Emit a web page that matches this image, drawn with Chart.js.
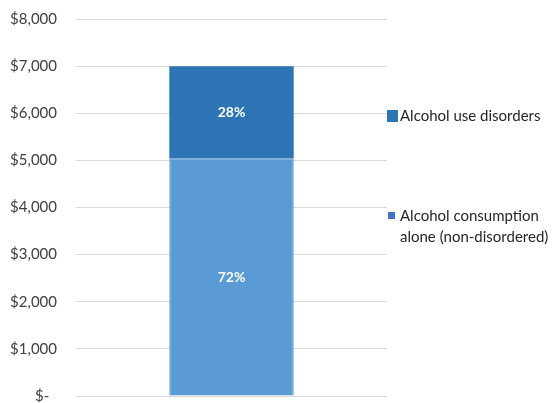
<!DOCTYPE html>
<html>
<head>
<meta charset="utf-8">
<script src="https://cdn.jsdelivr.net/npm/chart.js@4"></script>
<style>
  html, body { margin: 0; padding: 0; background: #fff; }
  canvas { display: block; }
</style>
</head>
<body>
<canvas id="c" width="556" height="403"></canvas>
<script>
// data
const categories = [''];
const seriesNames = ['Alcohol consumption alone (non-disordered)', 'Alcohol use disorders'];
const nonDisordered = [5040];
const useDisorders = [1960];
const yTicks = [0, 1000, 2000, 3000, 4000, 5000, 6000, 7000, 8000];

const FONT = 'Lato, "Open Sans", sans-serif';

// percentage labels inside each bar segment
const pctLabels = {
  id: 'pctLabels',
  afterDatasetsDraw(chart) {
    const ctx = chart.ctx;
    const totals = categories.map((_, i) =>
      chart.data.datasets.reduce((s, d) => s + d.data[i], 0));
    ctx.save();
    ctx.fillStyle = '#fff';
    ctx.font = 'bold 14px ' + FONT;
    ctx.textAlign = 'center';
    ctx.textBaseline = 'middle';
    chart.data.datasets.forEach((ds, di) => {
      chart.getDatasetMeta(di).data.forEach((bar, i) => {
        const p = Math.round(ds.data[i] / totals[i] * 100) + '%';
        ctx.fillText(p, bar.x, (bar.y + bar.base) / 2);
      });
    });
    ctx.restore();
  }
};

// legend on the right, like the original
const sideLegend = {
  id: 'sideLegend',
  afterDraw(chart) {
    const ctx = chart.ctx;
    ctx.save();
    ctx.font = '15px ' + FONT;
    ctx.textBaseline = 'middle';
    // disorders entry
    const d1 = chart.data.datasets[1];
    ctx.fillStyle = d1.backgroundColor;
    ctx.fillRect(387, 110, 11, 12);
    ctx.fillStyle = '#262626';
    ctx.fillText(d1.label, 400, 116);
    // non-disordered entry, wrapped on two lines
    ctx.fillStyle = '#4472c4';
    ctx.fillRect(388, 212, 7, 7);
    ctx.fillStyle = '#262626';
    ctx.fillText('Alcohol consumption', 400, 216);
    ctx.fillText('alone (non-disordered)', 400, 237);
    ctx.restore();
  }
};

new Chart(document.getElementById('c'), {
  type: 'bar',
  data: {
    labels: categories,
    datasets: [
      {
        label: seriesNames[0],
        data: nonDisordered,
        backgroundColor: '#5b9bd5',
        borderColor: '#4f8fca',
        borderWidth: 1,
        categoryPercentage: 1,
        barPercentage: 0.4
      },
      {
        label: seriesNames[1],
        data: useDisorders,
        backgroundColor: '#2e75b6',
        borderWidth: 0,
        categoryPercentage: 1,
        barPercentage: 0.4
      }
    ]
  },
  options: {
    responsive: false,
    animation: false,
    layout: { autoPadding: false, padding: { top: 19, bottom: 7, right: 169, left: 0 } },
    plugins: {
      legend: { display: false },
      tooltip: { enabled: false }
    },
    scales: {
      x: { stacked: true, display: false },
      y: {
        stacked: true,
        min: 0,
        max: 8000,
        afterBuildTicks(axis) { axis.ticks = yTicks.map(v => ({ value: v })); },
        afterFit(axis) { axis.width = 76; axis.paddingTop = 0; axis.paddingBottom = 0; },
        border: { display: false },
        grid: { color: '#d9d9d9', lineWidth: 1, drawTicks: false },
        ticks: {
          padding: 19,
          color: '#404040',
          font: { family: FONT, size: 15 },
          callback: v => v === 0 ? '$-  ' : '$' + v.toLocaleString('en-US')
        }
      }
    }
  },
  plugins: [pctLabels, sideLegend]
});
</script>
</body>
</html>
